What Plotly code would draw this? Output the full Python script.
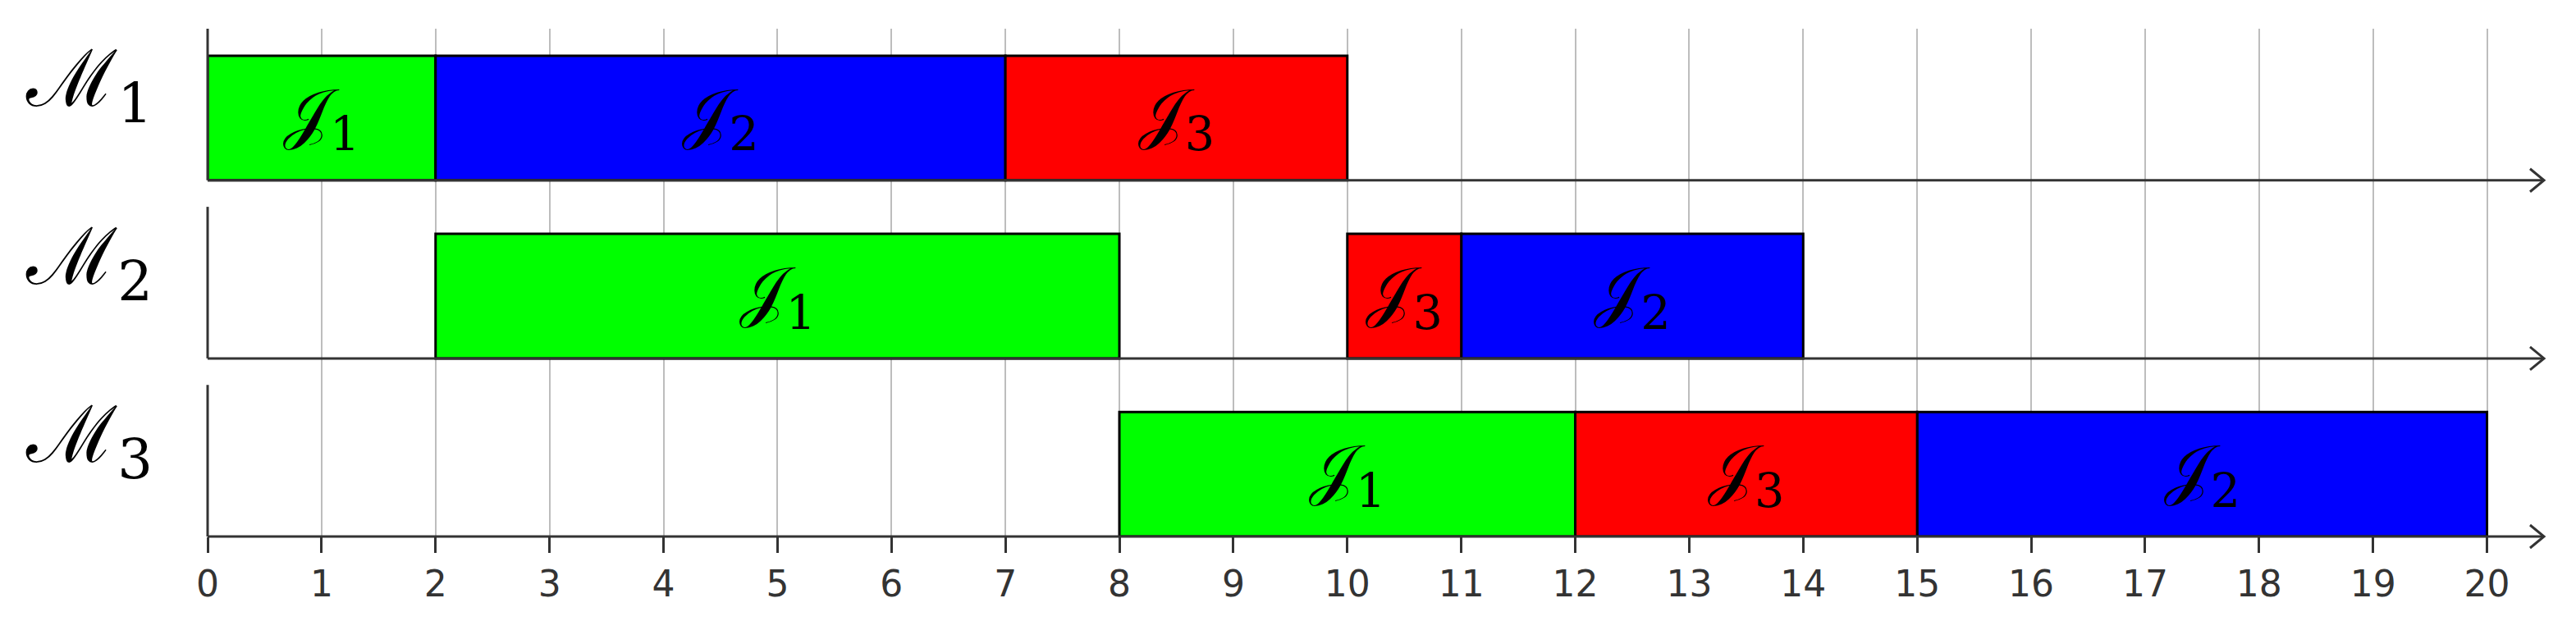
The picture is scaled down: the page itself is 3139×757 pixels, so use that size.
import plotly.graph_objects as go

machines = ["ℳ<sub>1</sub>", "ℳ<sub>2</sub>", "ℳ<sub>3</sub>"]
jobs = ["𝒥<sub>1</sub>", "𝒥<sub>2</sub>", "𝒥<sub>3</sub>"]
job_colors = ["#00FF00", "#0000FF", "#FF0000"]

# start / end time of each job on M1, M2, M3
j1_start = [0, 2, 8]
j1_end = [2, 8, 12]
j2_start = [2, 11, 15]
j2_end = [7, 14, 20]
j3_start = [7, 10, 12]
j3_end = [10, 11, 15]

time_ticks = list(range(0, 21))

_AXIS = "#333333"
_GRID = "#bdbdbd"

ROW_PITCH = 1.43
BAR_H = 1.0
ROW_H = 1.217
LABEL_LIFT = 0.32
Y_MAX = ROW_PITCH * (len(machines) - 1) + ROW_H
# M1 on top, M3 at the bottom
row_base = [ROW_PITCH * (len(machines) - 1 - i) for i in range(len(machines))]
row_mid = [b + BAR_H / 2 for b in row_base]

fig = go.Figure()

for name, color, starts, ends in zip(
    jobs, job_colors, [j1_start, j2_start, j3_start], [j1_end, j2_end, j3_end]
):
    fig.add_trace(
        go.Bar(
            y=row_mid,
            x=[e - s for s, e in zip(starts, ends)],
            base=starts,
            orientation="h",
            width=BAR_H,
            marker=dict(color=color, line=dict(color="#000000", width=3)),
            text=[name] * len(starts),
            textposition="inside",
            insidetextanchor="middle",
            textangle=0,
            constraintext="none",
            textfont=dict(size=82, color="#000000", family="DejaVu Serif"),
            showlegend=False,
            hoverinfo="skip",
        )
    )

# axis lines + open arrow heads, in paper units so they are not clipped
shapes = []
arrow_dx = 17 / 2847
arrow_dy = 14 / 619
for b in row_base:
    yb = b / Y_MAX
    yt = (b + ROW_H) / Y_MAX
    shapes.append(dict(type="line", xref="paper", yref="paper", x0=0, x1=0, y0=yb, y1=yt,
                       line=dict(color=_AXIS, width=3), layer="above"))
    shapes.append(dict(type="line", xref="paper", yref="paper", x0=0, x1=1, y0=yb, y1=yb,
                       line=dict(color=_AXIS, width=3), layer="above"))
    shapes.append(dict(
        type="path", xref="paper", yref="paper",
        path=f"M {1 - arrow_dx},{yb + arrow_dy} L 1,{yb} L {1 - arrow_dx},{yb - arrow_dy}",
        line=dict(color=_AXIS, width=3), layer="above",
    ))

# page body adds ~8px offset, so the figure is sized/margined to compensate
fig.update_layout(
    width=3131,
    height=749,
    autosize=False,
    margin=dict(l=245, r=39, t=27, b=103),
    paper_bgcolor="white",
    plot_bgcolor="white",
    barmode="overlay",
    uniformtext=dict(mode="show", minsize=10),
    shapes=shapes,
    xaxis=dict(
        range=[0, 20.5],
        tickvals=time_ticks,
        ticktext=[str(t) for t in time_ticks],
        showgrid=True,
        gridcolor=_GRID,
        gridwidth=2,
        zeroline=False,
        showline=False,
        ticks="outside",
        ticklen=19,
        tickwidth=3,
        tickcolor=_AXIS,
        tickfont=dict(size=44, color=_AXIS, family="DejaVu Sans"),
        automargin=False,
    ),
    yaxis=dict(
        range=[0, Y_MAX],
        tickvals=[m + LABEL_LIFT for m in row_mid],
        ticktext=machines,
        showgrid=False,
        zeroline=False,
        showline=False,
        ticks="",
        ticklabelstandoff=66,
        tickfont=dict(size=96, color="#000000", family="DejaVu Serif"),
        automargin=False,
    ),
)

fig.write_html("out.html")
